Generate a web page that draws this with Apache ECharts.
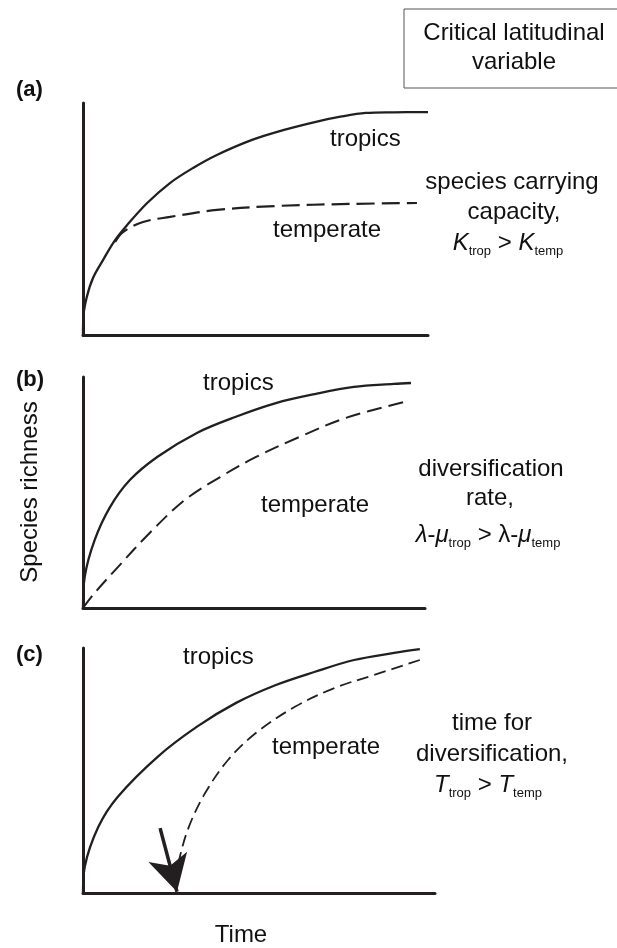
<!DOCTYPE html>
<html>
<head>
<meta charset="utf-8">
<script src="https://cdn.jsdelivr.net/npm/echarts@6/dist/echarts.min.js"></script>
<style>
html, body { margin: 0; background: #fff; }
#chart { width: 617px; height: 948px; }
</style>
</head>
<body>
<div id="chart"></div>
<script>
// curves in relative units (time 0-100, richness 0-100) per panel
// (a) carrying capacity
var aTropics = [[0,0],[0.1,7.8],[1.1,16.4],[2.9,24.6],[5.8,32.3],[9.3,40.9],[12.8,47.4],[18.6,56.9],[25.2,65.5],[31.9,72.0],[38.8,77.6],[49.0,84.1],[58.0,88.3],[67.2,91.8],[75.0,94.2],[82.0,95.7],[90.0,96.0],[100,96.1]];
var aTemperate = [[9.3,40.1],[11.6,44.4],[17.4,48.7],[25.2,50.9],[38.8,53.9],[55.9,55.6],[77.4,56.5],[96.8,56.9]];
// (b) diversification rate
var bTropics = [[0,0],[0.5,13.5],[3.4,29.4],[7.9,43.7],[13.7,55.4],[21.8,65.5],[33.3,75.8],[44.7,82.8],[56.4,88.7],[67.8,92.6],[79.2,95.7],[90.9,97.0],[95.9,97.4]];
var bTemperate = [[0,0],[3.4,6.5],[10.2,17.7],[19.5,32.5],[29.8,46.8],[40.1,56.7],[50.6,65.4],[63.2,74.0],[76.9,82.3],[94.3,89.3]];
// (c) time for diversification
var cTropics = [[0,0],[0.5,10.7],[4.4,27.1],[9.9,39.3],[21.2,55.6],[32.4,67.9],[43.5,77.6],[54.8,84.9],[65.9,90.3],[77.0,95.1],[88.4,98.0],[95.7,99.5]];
var cTemperate = [[95.7,95.1],[82.7,89.0],[71.5,83.7],[60.2,76.0],[49.1,65.3],[41.2,54.3],[34.7,40.8],[30.1,27.1],[27.3,13.5],[26.7,6.7]];
var cArrow = [[21.9,26.5],[26.7,0.5]];

var INK = '#231f20';
var FONT = '"Liberation Sans", Arial, Helvetica, sans-serif';

var grids = [
  { left: 83, top: 103, width: 345, height: 232 },
  { left: 83, top: 377, width: 342, height: 231 },
  { left: 83, top: 648, width: 352, height: 245 }
];

function axis(i) {
  return {
    type: 'value', gridIndex: i, min: 0, max: 100,
    axisLine: { show: true, lineStyle: { color: INK, width: 3 } },
    axisTick: { show: false }, axisLabel: { show: false }, splitLine: { show: false }
  };
}

function curve(i, data, dash, width) {
  return {
    type: 'line', xAxisIndex: i, yAxisIndex: i, data: data,
    showSymbol: false, smooth: 0.35, silent: true,
    lineStyle: { color: INK, width: width, type: dash || 'solid' }
  };
}

function txt(text, x, y, align, extra) {
  var st = { text: text, x: x, y: y, align: align || 'center', verticalAlign: 'middle',
    fill: '#111', font: '24px ' + FONT };
  if (extra) for (var k in extra) st[k] = extra[k];
  return { type: 'text', silent: true, style: st };
}

var rich = {
  n: { fontSize: 24, fontFamily: FONT, lineHeight: 30, fill: '#111' },
  i: { fontSize: 24, fontFamily: FONT, fontStyle: 'italic', lineHeight: 30, fill: '#111' },
  s: { fontSize: 13, fontFamily: FONT, lineHeight: 12, verticalAlign: 'bottom', fill: '#111' }
};

function richTxt(text, x, y) {
  return { type: 'text', silent: true,
    style: { text: text, x: x, y: y, align: 'center', verticalAlign: 'middle', rich: rich } };
}

var arrowSeries = curve(2, cTemperate, [12, 6], 1.8);
arrowSeries.markLine = {
  silent: true, symbol: ['none', 'arrow'], symbolSize: [30, 36],
  label: { show: false },
  lineStyle: { color: INK, width: 3.5, type: 'solid' },
  data: [[{ coord: cArrow[0] }, { coord: cArrow[1] }]]
};

var chart = echarts.init(document.getElementById('chart'));
chart.setOption({
  animation: false,
  grid: grids,
  xAxis: [axis(0), axis(1), axis(2)],
  yAxis: [axis(0), axis(1), axis(2)],
  series: [
    curve(0, aTropics, null, 2.3),
    curve(0, aTemperate, [18, 7], 2.2),
    curve(1, bTropics, null, 2.3),
    curve(1, bTemperate, [15, 7], 2),
    curve(2, cTropics, null, 2.3),
    arrowSeries
  ],
  graphic: [
    { type: 'rect', silent: true, shape: { x: 404, y: 9, width: 240, height: 79 },
      style: { fill: 'none', stroke: '#555', lineWidth: 1 } },
    txt('Critical latitudinal', 514, 33),
    txt('variable', 514, 62),
    txt('(a)', 16, 90, 'left', { font: 'bold 22px ' + FONT }),
    txt('(b)', 16, 380, 'left', { font: 'bold 22px ' + FONT }),
    txt('(c)', 16, 655, 'left', { font: 'bold 22px ' + FONT }),
    // (a)
    txt('tropics', 330, 139, 'left'),
    txt('temperate', 273, 230, 'left'),
    txt('species carrying', 512, 182),
    txt('capacity,', 514, 212),
    richTxt('{i|K}{s|trop}{n| > }{i|K}{s|temp}', 508, 243),
    // (b)
    txt('tropics', 203, 383, 'left'),
    txt('temperate', 261, 505, 'left'),
    txt('diversification', 491, 469),
    txt('rate,', 490, 498),
    richTxt('{i|λ}{n|-}{i|μ}{s|trop}{n| > λ-}{i|μ}{s|temp}', 488, 535),
    // (c)
    txt('tropics', 183, 657, 'left'),
    txt('temperate', 272, 747, 'left'),
    txt('time for', 492, 723),
    txt('diversification,', 492, 754),
    richTxt('{i|T}{s|trop}{n| > }{i|T}{s|temp}', 488, 785),
    // axis titles
    { type: 'text', silent: true, x: 30, y: 492, rotation: Math.PI / 2,
      style: { text: 'Species richness', x: 0, y: 0, align: 'center', verticalAlign: 'middle',
        fill: '#111', font: '24px ' + FONT } },
    txt('Time', 241, 935)
  ]
});
</script>
</body>
</html>
